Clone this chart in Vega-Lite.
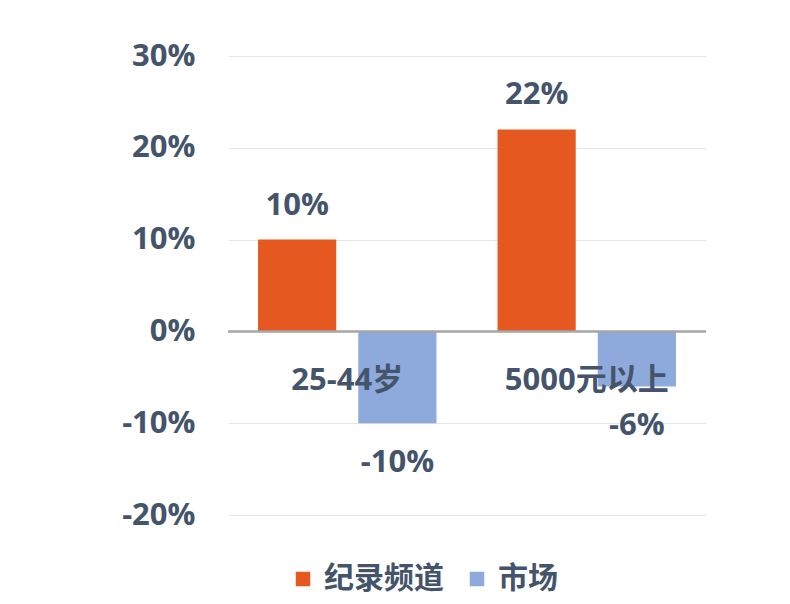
{
  "$schema": "https://vega.github.io/schema/vega-lite/v6.json",
  "width": 478,
  "height": 459,
  "autosize": {"type": "none"},
  "padding": {"left": 228, "top": 56, "right": 84, "bottom": 89},
  "background": "white",
  "config": {"view": {"stroke": null}, "font": "Open Sans, Noto Sans CJK SC"},
  "datasets": {
    "main": [
      {"category": "25-44岁", "series": "纪录频道", "value": 0.10, "label": "10%"},
      {"category": "25-44岁", "series": "市场", "value": -0.10, "label": "-10%"},
      {"category": "5000元以上", "series": "纪录频道", "value": 0.22, "label": "22%"},
      {"category": "5000元以上", "series": "市场", "value": -0.06, "label": "-6%"}
    ],
    "cats": [
      {"category": "25-44岁", "zero": 0},
      {"category": "5000元以上", "zero": 0}
    ]
  },
  "layer": [
    {
      "data": {"name": "main"},
      "mark": {"type": "bar"},
      "encoding": {
        "x": {"field": "category", "type": "nominal", "sort": ["25-44岁", "5000元以上"], "scale": {"paddingInner": 0.255, "paddingOuter": 0.1255}, "axis": null},
        "y": {"field": "value", "type": "quantitative", "scale": {"domain": [-0.2, 0.3], "nice": false},
          "axis": {"values": [-0.2, -0.1, 0, 0.1, 0.2, 0.3], "format": ".0%", "labelExpr": "replace(datum.label, '−', '-')", "domain": false, "ticks": false, "grid": true, "gridColor": "#E6E6E6", "labelFontSize": 31, "labelFontWeight": "bold", "labelColor": "#44546A", "labelPadding": 33, "title": null}},
        "xOffset": {"field": "series", "type": "nominal", "sort": ["纪录频道", "市场"], "scale": {"paddingInner": 0.22, "paddingOuter": 0}},
        "color": {"field": "series", "type": "nominal", "sort": ["纪录频道", "市场"],
          "scale": {"domain": ["纪录频道", "市场"], "range": ["#E5581F", "#8EA9DB"]},
          "legend": {"orient": "none", "legendX": 60, "legendY": 508, "direction": "horizontal", "title": null, "symbolType": "square", "symbolSize": 210, "symbolStrokeWidth": 0, "symbolOpacity": 1, "labelFontSize": 30, "labelFontWeight": "bold", "labelColor": "#44546A", "columnPadding": 18, "labelOffset": 6}}
      }
    },
    {
      "data": {"name": "cats"},
      "mark": {"type": "rule", "color": "#A6A6A6", "strokeWidth": 2},
      "encoding": {"y": {"field": "zero", "type": "quantitative"}}
    },
    {
      "data": {"name": "main"},
      "transform": [{"filter": "datum.value > 0"}],
      "mark": {"type": "text", "dy": -34, "fontSize": 31, "fontWeight": "bold", "color": "#44546A"},
      "encoding": {
        "x": {"field": "category", "type": "nominal", "sort": ["25-44岁", "5000元以上"]},
        "xOffset": {"field": "series", "type": "nominal", "sort": ["纪录频道", "市场"]},
        "y": {"field": "value", "type": "quantitative"},
        "text": {"field": "label"}
      }
    },
    {
      "data": {"name": "main"},
      "transform": [{"filter": "datum.value < 0"}],
      "mark": {"type": "text", "dy": 40, "fontSize": 31, "fontWeight": "bold", "color": "#44546A"},
      "encoding": {
        "x": {"field": "category", "type": "nominal", "sort": ["25-44岁", "5000元以上"]},
        "xOffset": {"field": "series", "type": "nominal", "sort": ["纪录频道", "市场"]},
        "y": {"field": "value", "type": "quantitative"},
        "text": {"field": "label"}
      }
    },
    {
      "data": {"name": "cats"},
      "mark": {"type": "text", "dy": 50, "fontSize": 31, "fontWeight": "bold", "color": "#44546A"},
      "encoding": {
        "x": {"field": "category", "type": "nominal", "sort": ["25-44岁", "5000元以上"]},
        "y": {"field": "zero", "type": "quantitative"},
        "text": {"field": "category"}
      }
    }
  ]
}
